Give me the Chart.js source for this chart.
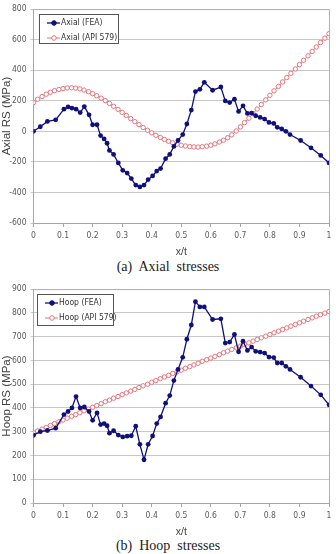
<!DOCTYPE html>
<html>
<head>
<meta charset="utf-8">
<script src="https://cdn.jsdelivr.net/npm/chart.js@4.4.1/dist/chart.umd.min.js"></script>
<style>
  body { margin: 0; background: #fff; width: 336px; height: 554px; position: relative; overflow: hidden; }
  .box { position: absolute; left: 0; width: 336px; height: 258px; }
  .cap { position: absolute; left: 0; width: 336px; text-align: center; font-family: "Liberation Serif", serif; font-size: 14px; color: #222; white-space: pre; }
</style>
</head>
<body>
<div class="box" style="top:0"><canvas id="axial"></canvas></div>
<div class="cap" style="top:259px">(a)  Axial  stresses</div>
<div class="box" style="top:280px"><canvas id="hoop"></canvas></div>
<div class="cap" style="top:538px">(b)  Hoop  stresses</div>

<script>
// x/t positions of the FEA nodes (shared by both plots)
const xFea = [0, 0.023, 0.047, 0.075, 0.103, 0.117, 0.130, 0.144, 0.158, 0.172,
  0.188, 0.200, 0.215, 0.227, 0.239, 0.249, 0.257, 0.271, 0.287, 0.302,
  0.317, 0.331, 0.346, 0.360, 0.374, 0.388, 0.403, 0.417, 0.430, 0.447,
  0.461, 0.475, 0.489, 0.505, 0.519, 0.534, 0.548, 0.563, 0.578, 0.606,
  0.634, 0.649, 0.664, 0.680, 0.694, 0.709, 0.724, 0.738, 0.752, 0.767,
  0.782, 0.797, 0.813, 0.825, 0.840, 0.854, 0.868, 0.904, 0.939, 0.972, 1];

const axialFea = [0, 30, 65, 75, 145, 160, 152, 145, 123, 162,
  108, 43, 43, -28, -50, -78, -125, -151, -207, -255,
  -273, -309, -352, -364, -352, -316, -292, -260, -244, -179,
  -151, -99, -60, -21, 48, 139, 260, 275, 321, 269,
  290, 199, 188, 210, 130, 167, 117, 119, 102, 91,
  80, 58, 52, 26, 16, 0, -21, -60, -108, -158, -207];

const hoopFea = [285, 300, 305, 315, 372, 385, 400, 448, 400, 404,
  385, 348, 379, 330, 334, 325, 294, 304, 286, 278,
  281, 283, 323, 247, 182, 247, 282, 334, 362, 420,
  452, 515, 562, 613, 689, 749, 847, 825, 825, 772,
  775, 673, 677, 709, 636, 681, 642, 656, 638, 635,
  631, 614, 612, 589, 589, 575, 562, 529, 492, 455, 413];

// x/t positions of the API 579 profile points
const xApi = [0, 0.014, 0.029, 0.043, 0.057, 0.071, 0.086, 0.100, 0.114, 0.129,
  0.143, 0.157, 0.171, 0.186, 0.200, 0.214, 0.229, 0.243, 0.257, 0.271,
  0.286, 0.300, 0.314, 0.329, 0.343, 0.357, 0.371, 0.386, 0.400, 0.414,
  0.429, 0.443, 0.457, 0.471, 0.486, 0.500, 0.514, 0.529, 0.543, 0.557,
  0.571, 0.586, 0.600, 0.614, 0.629, 0.643, 0.657, 0.671, 0.686, 0.700,
  0.714, 0.729, 0.743, 0.757, 0.771, 0.786, 0.800, 0.814, 0.829, 0.843,
  0.857, 0.871, 0.886, 0.900, 0.914, 0.929, 0.943, 0.957, 0.971, 0.986, 1];

const axialApi = [188, 210, 228, 243, 256, 266, 274, 280, 284, 285,
  283, 278, 270, 259, 247, 233, 217, 201, 183, 164,
  144, 124, 104, 83, 63, 44, 25, 7, -10, -26,
  -40, -53, -65, -75, -84, -91, -96, -100, -102, -103,
  -101, -97, -91, -82, -70, -58, -42, -23, 2, 29,
  57, 86, 116, 146, 176, 206, 236, 265, 294, 323,
  352, 380, 408, 437, 465, 494, 523, 552, 581, 610, 639];

const hoopApi = [295, 303, 311, 318, 326, 334, 342, 349, 357, 365,
  372, 380, 388, 395, 403, 410, 418, 426, 433, 441,
  448, 456, 463, 471, 478, 486, 493, 500, 508, 515,
  523, 530, 537, 545, 552, 559, 567, 574, 581, 588,
  596, 603, 610, 617, 624, 632, 639, 646, 653, 660,
  667, 674, 681, 688, 695, 702, 709, 716, 723, 730,
  737, 744, 751, 758, 765, 772, 779, 786, 792, 799, 806];

const NAVY = '#10107a';
const PINK = '#e4747c';
const narrow = '"Liberation Sans Narrow", "DejaVu Sans Condensed", sans-serif';

const pts = (xs, ys) => xs.map((x, i) => ({ x: x, y: ys[i] }));

// grey frame round the plot area plus the boxed legend inside it
const frameAndLegend = {
  id: 'frameAndLegend',
  afterDraw(chart, args, opts) {
    const { ctx, chartArea: a } = chart;
    ctx.save();
    ctx.strokeStyle = '#b0b0b0';
    ctx.lineWidth = 1;
    ctx.beginPath();
    ctx.moveTo(a.left, a.top + 0.5);
    ctx.lineTo(a.right + 0.5, a.top + 0.5);
    ctx.lineTo(a.right + 0.5, a.bottom);
    ctx.stroke();

    const [bx, by, bw, bh] = opts.box;
    ctx.fillStyle = '#fff';
    ctx.fillRect(bx, by, bw, bh);
    ctx.strokeStyle = '#555';
    ctx.strokeRect(bx + 0.5, by + 0.5, bw, bh);
    ctx.font = '8.5px ' + narrow;
    ctx.textBaseline = 'middle';
    chart.data.datasets.forEach((d, i) => {
      const y = by + 9 + i * 15;
      ctx.strokeStyle = d.borderColor;
      ctx.lineWidth = d.borderWidth;
      ctx.beginPath();
      ctx.moveTo(bx + 8, y);
      ctx.lineTo(bx + 21, y);
      ctx.stroke();
      ctx.beginPath();
      ctx.arc(bx + 15, y, 2.3, 0, Math.PI * 2);
      ctx.fillStyle = d.pointBackgroundColor;
      ctx.fill();
      ctx.lineWidth = 1;
      ctx.strokeStyle = d.pointBorderColor;
      ctx.stroke();
      ctx.fillStyle = '#333';
      ctx.fillText(d.label, bx + 22, y);
    });
    ctx.restore();
  }
};

function makeChart(id, fea, api, names, yMin, yMax, step, yTitle, box) {
  return new Chart(document.getElementById(id), {
    type: 'line',
    data: {
      datasets: [
        {
          label: names[0],
          data: pts(xFea, fea),
          borderColor: NAVY,
          borderWidth: 1.3,
          pointRadius: 2.4,
          pointBackgroundColor: NAVY,
          pointBorderColor: NAVY,
          pointBorderWidth: 0,
        },
        {
          label: names[1],
          data: pts(xApi, api),
          borderColor: PINK,
          borderWidth: 1,
          pointRadius: 2.2,
          pointBackgroundColor: '#fff',
          pointBorderColor: PINK,
          pointBorderWidth: 1,
        },
      ],
    },
    options: {
      responsive: true,
      maintainAspectRatio: false,
      animation: false,
      layout: { padding: { top: 8, right: 7, left: 0, bottom: 0 } },
      plugins: {
        legend: { display: false },
        tooltip: { enabled: false },
        frameAndLegend: { box: box },
      },
      scales: {
        x: {
          type: 'linear',
          min: 0,
          max: 1,
          ticks: {
            stepSize: 0.1,
            color: '#595959',
            font: { size: 8.5, family: narrow },
            padding: 4,
            maxRotation: 0,
            callback: (v) => String(Math.round(v * 10) / 10),
          },
          grid: { drawOnChartArea: false, tickLength: 4, color: '#a6a6a6' },
          border: { color: '#a6a6a6' },
          title: { display: true, text: 'x/t', color: '#444', font: { size: 10.5, family: 'Liberation Sans' }, padding: 0 },
          afterFit: (s) => { s.height = 35; },
        },
        y: {
          min: yMin,
          max: yMax,
          ticks: { stepSize: step, color: '#595959', font: { size: 8.5, family: narrow }, padding: 4 },
          grid: { color: '#c8c8c8', tickLength: 3 },
          border: { color: '#a6a6a6' },
          title: { display: true, text: yTitle, color: '#404040', font: { size: 11.5, family: 'Liberation Sans' }, padding: 0 },
          afterFit: (s) => { s.width = 33.5; },
        },
      },
    },
    plugins: [frameAndLegend],
  });
}

makeChart('axial', axialFea, axialApi, ['Axial (FEA)', 'Axial (API 579)'],
  -600, 800, 200, 'Axial RS (MPa)', [39, 14, 79, 29]);
makeChart('hoop', hoopFea, hoopApi, ['Hoop (FEA)', 'Hoop (API 579)'],
  0, 900, 100, 'Hoop RS (MPa)', [37, 14, 76, 31]);
</script>
</body>
</html>
